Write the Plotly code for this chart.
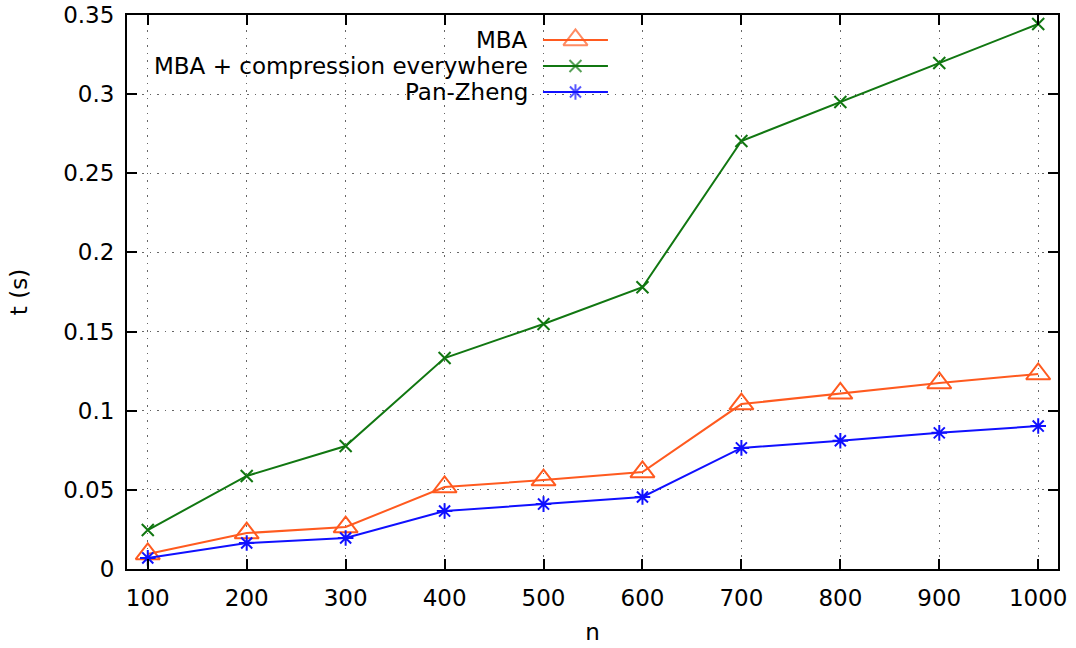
import plotly.graph_objects as go

n = [100, 200, 300, 400, 500, 600, 700, 800, 900, 1000]
mba = [0.0095, 0.0227, 0.0265, 0.0518, 0.0562, 0.0613, 0.1042, 0.111, 0.1175, 0.1232]
mba_comp = [0.0246, 0.0588, 0.0777, 0.1333, 0.1548, 0.178, 0.2704, 0.295, 0.3197, 0.3443]
pan_zheng = [0.007, 0.0164, 0.0196, 0.0366, 0.041, 0.0455, 0.0765, 0.081, 0.086, 0.0903]

names = ["MBA", "MBA + compression everywhere", "Pan-Zheng"]
series = [mba, mba_comp, pan_zheng]
colors = ["#ff5a1f", "#117711", "#1010ff"]
symbols = ["triangle-up-open", "x-thin-open", "asterisk-open"]
msizes = [21, 12, 13]

FONT = "DejaVu Sans"
FS = 23
fig = go.Figure()

for name, ys, c, s, ms in zip(names, series, colors, symbols, msizes):
    fig.add_trace(go.Scatter(
        x=n, y=ys, mode="lines+markers", name=name, showlegend=False,
        line=dict(color=c, width=2),
        marker=dict(symbol=s, size=ms, color=c, line=dict(color=c, width=2)),
    ))

# custom gnuplot-style legend (text left of sample)
leg_y = [0.955, 0.908, 0.861]
lx0, lxm, lx1 = 0.4468, 0.4817, 0.5166
for name, c, s, ms, ly in zip(names, colors, symbols, msizes, leg_y):
    fig.add_trace(go.Scatter(
        x=[lx0, lxm, lx1], y=[ly, ly, ly], xaxis="x2", yaxis="y2",
        mode="lines+markers", showlegend=False, hoverinfo="skip",
        line=dict(color=c, width=2),
        marker=dict(symbol=s, size=[0, ms, 0], color=c, line=dict(color=c, width=2)),
    ))
    fig.add_annotation(x=0.4329, y=ly, xref="paper", yref="paper", text=name,
                       showarrow=False, xanchor="right", yanchor="middle",
                       font=dict(family=FONT, size=FS, color="black"))

axis_common = dict(
    showline=True, linecolor="black", linewidth=2, mirror="ticks",
    ticks="inside", ticklen=10, tickwidth=2, tickcolor="black",
    showgrid=True, gridcolor="#666666", griddash="1.5px,6px", gridwidth=1.2,
    zeroline=False, automargin=False,
    tickfont=dict(family=FONT, size=FS, color="black"),
)

fig.update_layout(
    width=1076, height=648,
    margin=dict(l=127, r=18, t=15, b=79),
    paper_bgcolor="white", plot_bgcolor="white",
    xaxis=dict(range=[79, 1020], tickvals=n, ticktext=[str(v) for v in n],
               ticklabelstandoff=7,
               title=dict(text="n", font=dict(family=FONT, size=FS, color="black"), standoff=14),
               **axis_common),
    yaxis=dict(range=[0, 0.35], dtick=0.05, tick0=0,
               ticklabelstandoff=6,
               title=dict(text="t (s)", font=dict(family=FONT, size=FS, color="black"), standoff=29),
               **axis_common),
    xaxis2=dict(overlaying="x", range=[0, 1], visible=False),
    yaxis2=dict(overlaying="y", range=[0, 1], visible=False),
    showlegend=False,
)

fig.write_html("out.html")
